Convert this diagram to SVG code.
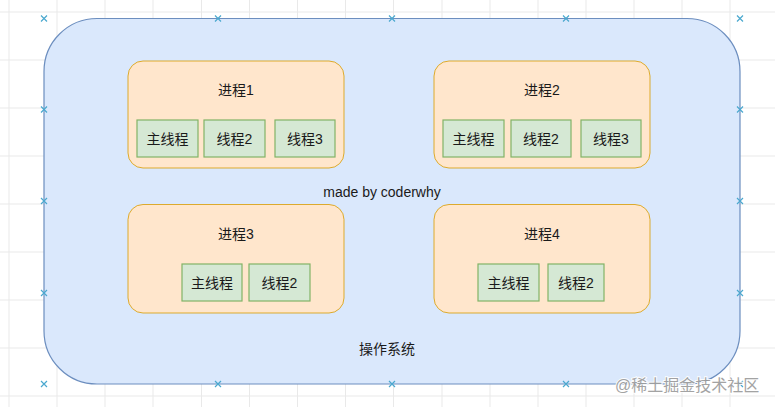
<svg xmlns="http://www.w3.org/2000/svg" xmlns:xlink="http://www.w3.org/1999/xlink" width="775" height="407" viewBox="0 0 775 407">
<style>
  .grid line { stroke: #e9e9e9; stroke-width: 1; }
  .os { fill: #dae8fc; stroke: #6c8ebf; stroke-width: 1.2; }
  .proc { fill: #ffe6cc; stroke: #d79b00; stroke-width: 1; stroke-opacity: 0.8; }
  .thr { fill: #d5e8d4; stroke: #82b366; stroke-width: 1.2; }
  text { font-family: "Liberation Sans", "Noto Sans CJK SC", sans-serif; font-size: 14px; fill: #1a1a1a; text-anchor: middle; }
  .wm { font-size: 16px; fill: #9a9a9a; stroke: #ffffff; stroke-width: 2; paint-order: stroke; text-anchor: start; opacity: 0.9; }
  .xm { stroke: #4aa8cf; stroke-width: 1.2; fill: none; }
</style>
<defs>
  <path id="xmark" class="xm" d="M-3,-3 L3,3 M-3,3 L3,-3"/>
</defs>
<rect width="775" height="407" fill="#ffffff"/>
<g class="grid">
  <line x1="9" y1="0" x2="9" y2="407"/>
  <line x1="57" y1="0" x2="57" y2="407"/>
  <line x1="105" y1="0" x2="105" y2="407"/>
  <line x1="153" y1="0" x2="153" y2="407"/>
  <line x1="201.5" y1="0" x2="201.5" y2="407"/>
  <line x1="249.5" y1="0" x2="249.5" y2="407"/>
  <line x1="297.5" y1="0" x2="297.5" y2="407"/>
  <line x1="345.5" y1="0" x2="345.5" y2="407"/>
  <line x1="393.5" y1="0" x2="393.5" y2="407"/>
  <line x1="442" y1="0" x2="442" y2="407"/>
  <line x1="490" y1="0" x2="490" y2="407"/>
  <line x1="538" y1="0" x2="538" y2="407"/>
  <line x1="586" y1="0" x2="586" y2="407"/>
  <line x1="634" y1="0" x2="634" y2="407"/>
  <line x1="682" y1="0" x2="682" y2="407"/>
  <line x1="730" y1="0" x2="730" y2="407"/>
  <line x1="0" y1="12" x2="775" y2="12"/>
  <line x1="0" y1="60" x2="775" y2="60"/>
  <line x1="0" y1="108" x2="775" y2="108"/>
  <line x1="0" y1="156" x2="775" y2="156"/>
  <line x1="0" y1="204" x2="775" y2="204"/>
  <line x1="0" y1="252" x2="775" y2="252"/>
  <line x1="0" y1="300" x2="775" y2="300"/>
  <line x1="0" y1="348" x2="775" y2="348"/>
  <line x1="0" y1="396" x2="775" y2="396"/>
</g>
<g id="os">
  <rect class="os" x="44" y="18.5" width="696" height="365.5" rx="53" ry="53"/>
  <text x="387" y="354">操作系统</text>
</g>
<g id="watermark-label">
  <text x="382" y="197">made by coderwhy</text>
</g>
<g id="process1">
  <rect class="proc" x="128" y="61" width="216" height="107" rx="15" ry="15"/>
  <text x="236" y="95">进程1</text>
</g>
<g id="p1-main"><rect class="thr" x="137" y="120" width="61" height="37"/><text x="167.5" y="143.5">主线程</text></g>
<g id="p1-t2"><rect class="thr" x="204" y="120" width="61" height="37"/><text x="234.5" y="143.5">线程2</text></g>
<g id="p1-t3"><rect class="thr" x="275" y="120" width="60" height="37"/><text x="305" y="143.5">线程3</text></g>
<g id="process2">
  <rect class="proc" x="434" y="61" width="216" height="107" rx="15" ry="15"/>
  <text x="542" y="95">进程2</text>
</g>
<g id="p2-main"><rect class="thr" x="443" y="120" width="61" height="37"/><text x="473.5" y="143.5">主线程</text></g>
<g id="p2-t2"><rect class="thr" x="511" y="120" width="60" height="37"/><text x="541" y="143.5">线程2</text></g>
<g id="p2-t3"><rect class="thr" x="581" y="120" width="60" height="37"/><text x="611" y="143.5">线程3</text></g>
<g id="process3">
  <rect class="proc" x="128" y="204.5" width="216" height="108.5" rx="15" ry="15"/>
  <text x="236" y="239">进程3</text>
</g>
<g id="p3-main"><rect class="thr" x="182" y="264" width="60" height="37"/><text x="212" y="287.5">主线程</text></g>
<g id="p3-t2"><rect class="thr" x="249" y="264" width="61" height="37"/><text x="279.5" y="287.5">线程2</text></g>
<g id="process4">
  <rect class="proc" x="434" y="204.5" width="216" height="108.5" rx="15" ry="15"/>
  <text x="542" y="239">进程4</text>
</g>
<g id="p4-main"><rect class="thr" x="478" y="264" width="61" height="37"/><text x="508.5" y="287.5">主线程</text></g>
<g id="p4-t2"><rect class="thr" x="548" y="264" width="56" height="37"/><text x="576" y="287.5">线程2</text></g>
<g id="connectors"></g>
<g id="handles">
  <use xlink:href="#xmark" x="44" y="18.5"/>
  <use xlink:href="#xmark" x="218" y="18.5"/>
  <use xlink:href="#xmark" x="392" y="18.5"/>
  <use xlink:href="#xmark" x="566" y="18.5"/>
  <use xlink:href="#xmark" x="740" y="18.5"/>
  <use xlink:href="#xmark" x="44" y="109.5"/>
  <use xlink:href="#xmark" x="740" y="109.5"/>
  <use xlink:href="#xmark" x="44" y="201"/>
  <use xlink:href="#xmark" x="740" y="201"/>
  <use xlink:href="#xmark" x="44" y="293"/>
  <use xlink:href="#xmark" x="740" y="293"/>
  <use xlink:href="#xmark" x="44" y="384"/>
  <use xlink:href="#xmark" x="218" y="384"/>
  <use xlink:href="#xmark" x="392" y="384"/>
  <use xlink:href="#xmark" x="566" y="384"/>
  <use xlink:href="#xmark" x="740" y="384"/>
</g>
<text class="wm" x="615" y="391">@稀土掘金技术社区</text>
</svg>
